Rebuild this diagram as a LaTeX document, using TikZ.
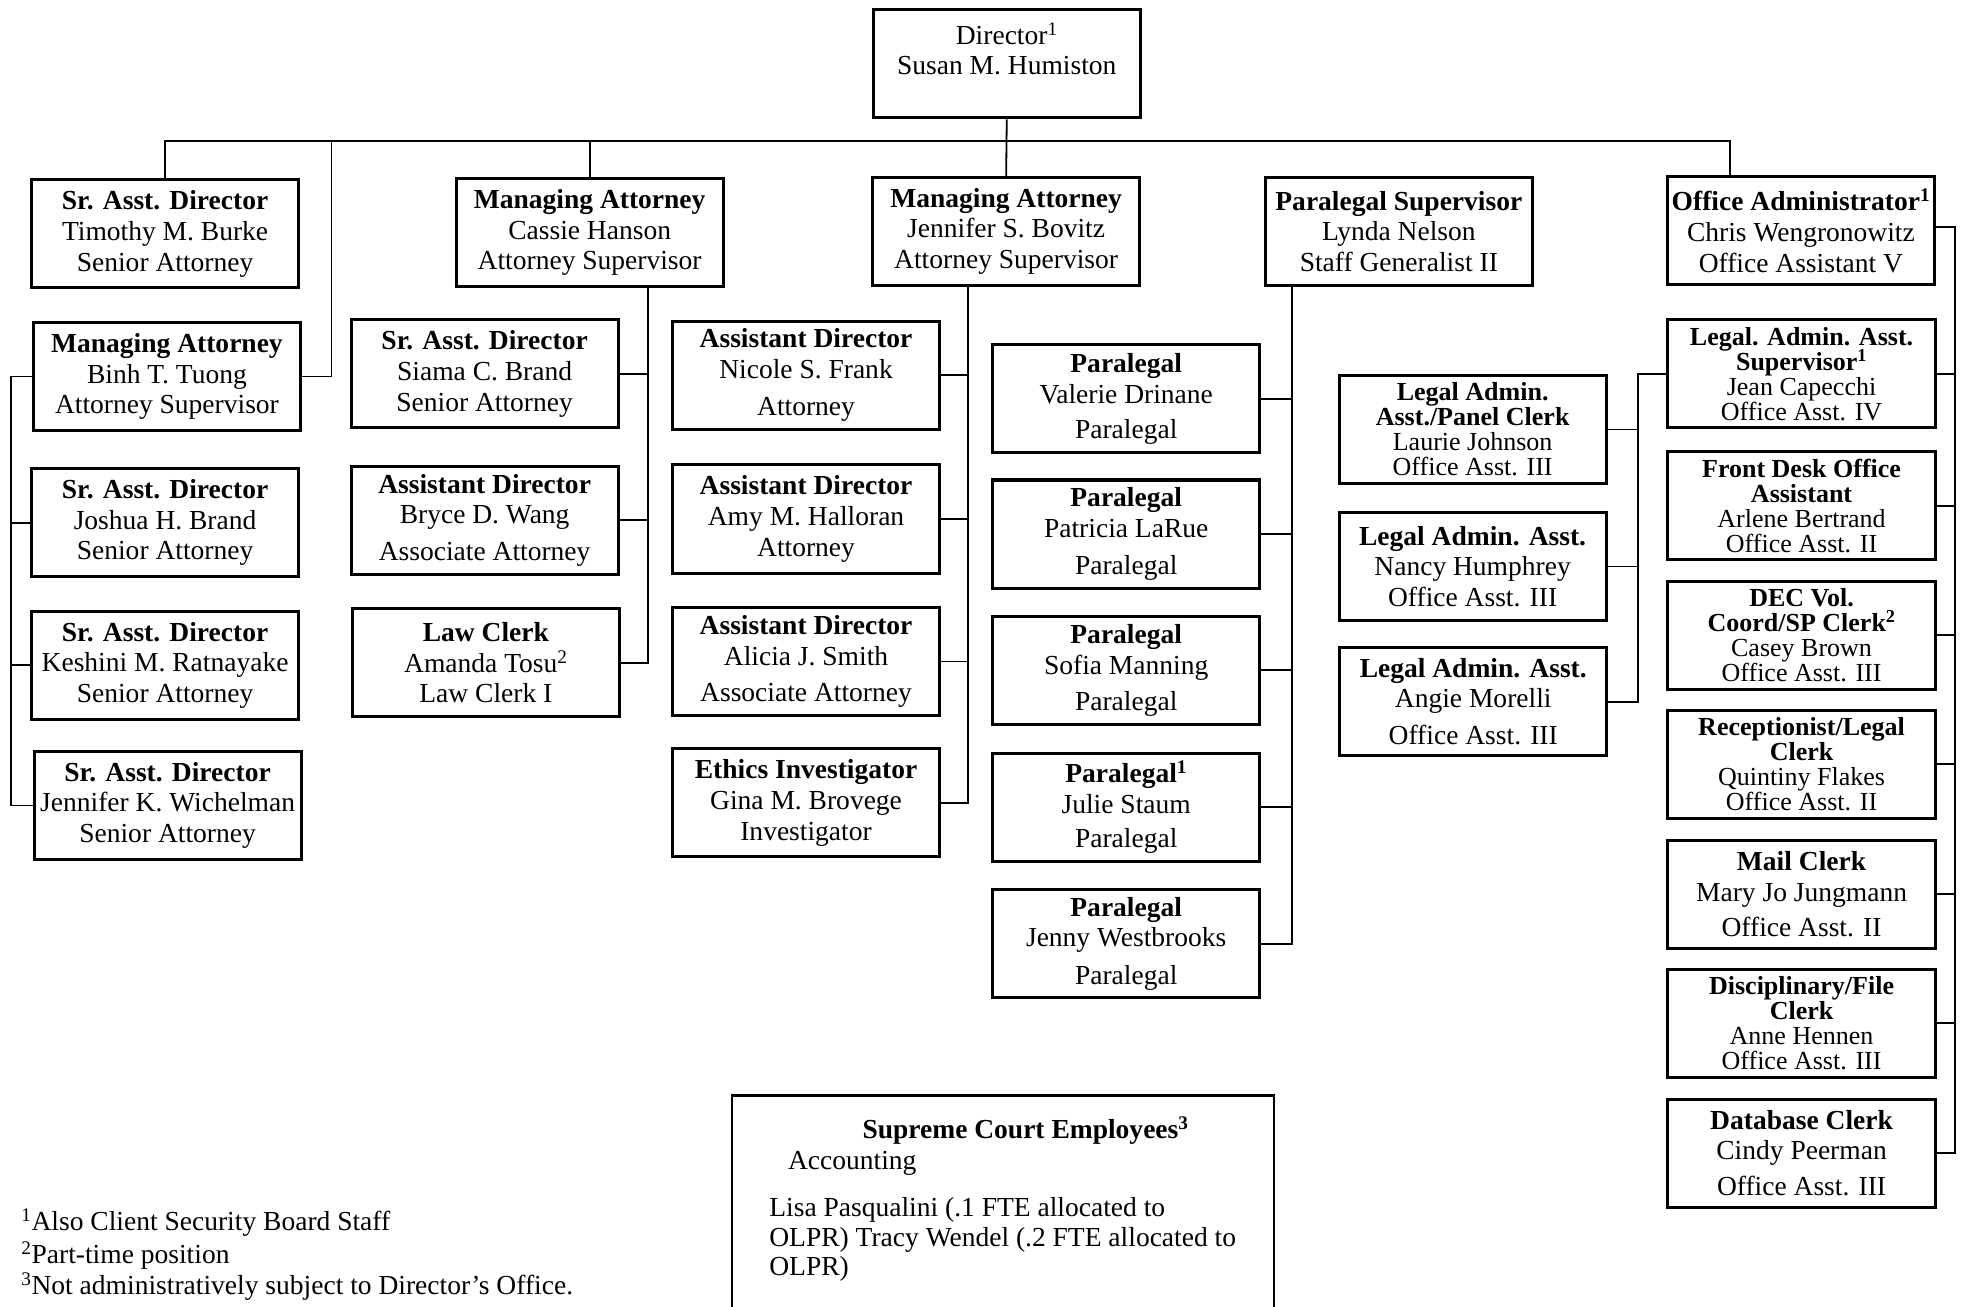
\documentclass[tikz,border=0pt]{standalone}
\usepackage{fontspec}
\setmainfont{Liberation Serif}
\newcommand\mybodyfont{\fontsize{27.5pt}{30.6pt}\selectfont}
\newcommand\mytightfont{\fontsize{26pt}{25pt}\selectfont\lineskiplimit -60pt\relax}
\begin{document}
\begin{tikzpicture}[x=1.25pt,y=-1.25pt,
  box/.style={draw, line width=3pt, minimum width=267pt, minimum height=108pt, inner sep=0pt, align=center,
    font=\mybodyfont},
  tightbox/.style={box, font=\mytightfont},
  conn/.style={line width=1.8pt},
  txt/.style={inner sep=0pt, font=\mybodyfont}]
\useasboundingbox (0,0) rectangle (1568,1045);

% buses
\coordinate (lbus) at (8.5,0);
\coordinate (cbus) at (518,0);
\coordinate (jbus) at (774,0);
\coordinate (pbus) at (1033,0);
\coordinate (abus) at (1310,0);
\coordinate (rbus) at (1563,0);
\coordinate (topbus) at (0,113);

% director
\node[box] (dir) at (805,51) {Director\textsuperscript{1}\\Susan M. Humiston\\\mbox{}};

% row 1
\node[box] (tim) at (132,187) {\textbf{Sr. Asst. Director}\\Timothy M. Burke\\Senior Attorney};
\node[box] (cas) at (471.5,186) {\textbf{Managing Attorney}\\Cassie Hanson\\Attorney Supervisor};
\node[box] (jsb) at (804.5,185) {\textbf{Managing Attorney}\\Jennifer S. Bovitz\\Attorney Supervisor};
\node[box] (lyn) at (1118.5,185) {\textbf{Paralegal Supervisor}\\Lynda Nelson\\Staff Generalist II};
\node[box] (chr) at (1440,184.5) {\textbf{Office Administrator\textsuperscript{1}}\\Chris Wengronowitz\\Office Assistant V};

% column 1
\node[box] (bin) at (133.5,301) {\textbf{Managing Attorney}\\Binh T. Tuong\\Attorney Supervisor};
\node[box] (jos) at (132,418) {\textbf{Sr. Asst. Director}\\Joshua H. Brand\\Senior Attorney};
\node[box] (kes) at (132,532) {\textbf{Sr. Asst. Director}\\Keshini M. Ratnayake\\Senior Attorney};
\node[box] (jkw) at (134,644) {\textbf{Sr. Asst. Director}\\Jennifer K. Wichelman\\Senior Attorney};

% column 2
\node[box] (sia) at (387.5,299) {\textbf{Sr. Asst. Director}\\Siama C. Brand\\Senior Attorney};
\node[box] (bry) at (387.5,416) {\textbf{Assistant Director}\\Bryce D. Wang\\[6pt]Associate Attorney};
\node[box] (ama) at (388.5,530) {\textbf{Law Clerk}\\Amanda Tosu\textsuperscript{2}\\Law Clerk I};

% column 3
\node[box] (nic) at (644.5,300) {\textbf{Assistant Director}\\Nicole S. Frank\\[7pt]Attorney};
\node[box] (amy) at (644.5,415) {\textbf{Assistant Director}\\Amy M. Halloran\\Attorney};
\node[box] (ali) at (644.5,529) {\textbf{Assistant Director}\\Alicia J. Smith\\[6pt]Associate Attorney};
\node[box] (gin) at (644.5,642) {\textbf{Ethics Investigator}\\Gina M. Brovege\\Investigator};

% column 4
\node[box] (val) at (900.5,319) {\textbf{Paralegal}\\Valerie Drinane\\[5pt]Paralegal};
\node[box] (pat) at (900.5,427) {\textbf{Paralegal}\\Patricia LaRue\\[7pt]Paralegal};
\node[box] (sof) at (900.5,536) {\textbf{Paralegal}\\Sofia Manning\\[5pt]Paralegal};
\node[box] (jul) at (900.5,645.5) {\textbf{Paralegal\textsuperscript{1}}\\Julie Staum\\[4pt]Paralegal};
\node[box] (jen) at (900.5,754.5) {\textbf{Paralegal}\\Jenny Westbrooks\\[7pt]Paralegal};

% column 5
\node[tightbox] (lau) at (1177.5,343.5) {\textbf{Legal Admin.}\\\textbf{Asst./Panel Clerk}\\Laurie Johnson\\Office Asst. III};
\node[box] (nan) at (1177.5,453) {\textbf{Legal Admin. Asst.}\\Nancy Humphrey\\Office Asst. III};
\node[box] (ang) at (1178,561) {\textbf{Legal Admin. Asst.}\\Angie Morelli\\[6pt]Office Asst. III};

% column 6
\node[tightbox] (jea) at (1440.5,299) {\textbf{Legal. Admin. Asst.}\\\textbf{Supervisor\textsuperscript{1}}\\Jean Capecchi\\Office Asst. IV};
\node[tightbox] (arl) at (1440.5,404.5) {\textbf{Front Desk Office}\\\textbf{Assistant}\\Arlene Bertrand\\Office Asst. II};
\node[tightbox] (dec) at (1440.5,508) {\textbf{DEC Vol.}\\\textbf{Coord/SP Clerk\textsuperscript{2}}\\Casey Brown\\Office Asst. III};
\node[tightbox] (qui) at (1440.5,611) {\textbf{Receptionist/Legal}\\\textbf{Clerk}\\Quintiny Flakes\\Office Asst. II};
\node[box] (mar) at (1440.5,715) {\textbf{Mail Clerk}\\Mary Jo Jungmann\\[5pt]Office Asst. II};
\node[tightbox] (ann) at (1440.5,818) {\textbf{Disciplinary/File}\\\textbf{Clerk}\\Anne Hennen\\Office Asst. III};
\node[box] (cin) at (1440.5,922) {\textbf{Database Clerk}\\Cindy Peerman\\[5pt]Office Asst. III};

% top connectors
\draw[conn] (dir.south) -- (jsb.north);
\draw[conn] (tim.north) -- (tim.north |- topbus) -- (1383,113) -- (chr.north -| 1383,0);
\draw[conn] (cas.north) -- (cas.north |- topbus);
\draw[conn] (bin.east) -| (265,113);

% column 1 bus
\draw[conn] (bin.west) -| (lbus |- jkw.west) -- (jkw.west);
\draw[conn] (jos.west) -- (jos.west -| lbus);
\draw[conn] (kes.west) -- (kes.west -| lbus);

% column 2 bus
\draw[conn] (cas.south -| cbus) |- (ama.east);
\draw[conn] (sia.east) -- (sia.east -| cbus);
\draw[conn] (bry.east) -- (bry.east -| cbus);

% column 3 bus
\draw[conn] (jsb.south -| jbus) |- (gin.east);
\draw[conn] (nic.east) -- (nic.east -| jbus);
\draw[conn] (amy.east) -- (amy.east -| jbus);
\draw[conn] (ali.east) -- (ali.east -| jbus);

% column 4 bus
\draw[conn] (lyn.south -| pbus) |- (jen.east);
\draw[conn] (val.east) -- (val.east -| pbus);
\draw[conn] (pat.east) -- (pat.east -| pbus);
\draw[conn] (sof.east) -- (sof.east -| pbus);
\draw[conn] (jul.east) -- (jul.east -| pbus);

% column 5 bus
\draw[conn] (jea.west) -| (ang.east -| abus) -- (ang.east);
\draw[conn] (lau.east) -- (lau.east -| abus);
\draw[conn] (nan.east) -- (nan.east -| abus);

% column 6 bus
\draw[conn] ([yshift=4pt]chr.east) -| (cin.east -| rbus) -- (cin.east);
\draw[conn] (jea.east) -- (jea.east -| rbus);
\draw[conn] (arl.east) -- (arl.east -| rbus);
\draw[conn] (dec.east) -- (dec.east -| rbus);
\draw[conn] (qui.east) -- (qui.east -| rbus);
\draw[conn] (mar.east) -- (mar.east -| rbus);
\draw[conn] (ann.east) -- (ann.east -| rbus);

% supreme court box
\draw[line width=2pt] (585,1050) -- (585,876);
\draw[line width=2pt] (1019,1050) -- (1019,876);
\draw[line width=3.2pt] (584.2,876) -- (1019.8,876);
\node[txt, anchor=base] (sce) at (820,910) {\textbf{Supreme Court Employees\textsuperscript{3}}};
\node[txt, anchor=base west] (acc) at (630,935) {Accounting};
\node[txt, anchor=base west] (sc1) at (615,973) {Lisa Pasqualini (.1 FTE allocated to};
\node[txt, anchor=base west] (sc2) at (615,997) {OLPR) Tracy Wendel (.2 FTE allocated to};
\node[txt, anchor=base west] (sc3) at (615,1020) {OLPR)};

% footnotes
\node[txt, anchor=base west] (fn1) at (17,984) {\textsuperscript{1}Also Client Security Board Staff};
\node[txt, anchor=base west] (fn2) at (17,1010) {\textsuperscript{2}Part-time position};
\node[txt, anchor=base west] (fn3) at (17,1035) {\textsuperscript{3}Not administratively subject to Director’s Office.};
\end{tikzpicture}
\end{document}
